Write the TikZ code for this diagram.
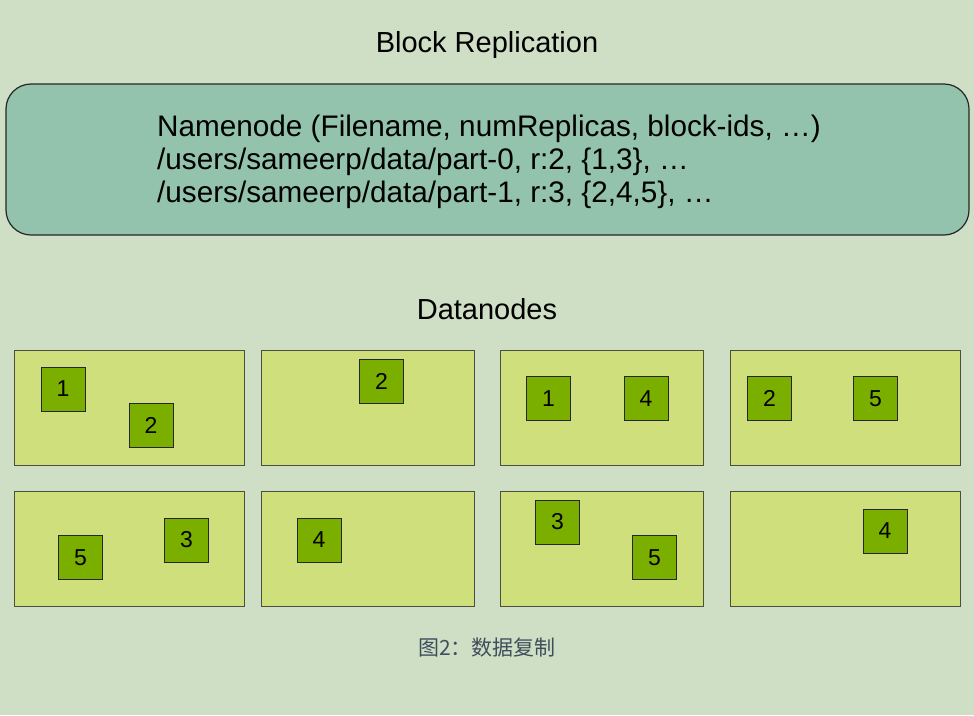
\documentclass[tikz,border=0pt]{standalone}
\usepackage{fontspec}
\setmainfont{Liberation Sans}
\newfontfamily\cjk{Noto Sans CJK SC}
\usepackage{tikz}

\definecolor{bgcol}{HTML}{CFDFC5}
\definecolor{namecol}{HTML}{93C2AD}
\definecolor{datacol}{HTML}{CFDF7B}
\definecolor{blockcol}{HTML}{7AAF00}
\definecolor{edgecol}{HTML}{4A4F40}
\definecolor{capcol}{HTML}{404E5C}

\tikzset{
  datanode/.style={draw=edgecol, line width=1.2pt, fill=datacol, minimum width=#1,
    minimum height=115pt, anchor=north west, inner sep=0pt},
  block/.style={draw=black!85, line width=1pt, fill=blockcol, minimum size=44pt,
    inner sep=0pt, font=\fontsize{23}{23}\selectfont},
}

\begin{document}
\begin{tikzpicture}[x=1pt,y=-1pt]
    \fill[bgcol] (0,0) rectangle (974,715);
    \useasboundingbox (0,0) rectangle (974,715);
    \node (title) at (487,45) {\fontsize{29}{33}\selectfont Block Replication};
    \node[draw=black!85, line width=1.2pt, fill=namecol, rounded corners=25pt,
      minimum width=963pt, minimum height=151pt, align=left,
      font=\fontsize{29.7}{33}\selectfont] (namenode) at (487.5,159.5) {};
    \node[align=left, font=\fontsize{29.7}{33}\selectfont] (nametext) at (489,161.5)
      {Namenode (Filename, numReplicas, block-ids, \dots)\\
       /users/sameerp/data/part-0, r:2, \{1,3\}, \dots\\
       /users/sameerp/data/part-1, r:3, \{2,4,5\}, \dots};
    \node (datanodes) at (487,309) {\fontsize{29}{33}\selectfont Datanodes};
    % first row of datanodes
    \node[datanode=230pt] (dn1) at (14,350) {};
    \node[datanode=213pt] (dn2) at (261,350) {};
    \node[datanode=203pt] (dn3) at (500,350) {};
    \node[datanode=230pt] (dn4) at (730,350) {};
    % second row of datanodes
    \node[datanode=230pt] (dn5) at (14,491) {};
    \node[datanode=213pt] (dn6) at (261,491) {};
    \node[datanode=203pt] (dn7) at (500,491) {};
    \node[datanode=230pt] (dn8) at (730,491) {};
    % blocks
    \node[block] (b11) at (63,389) {1};
    \node[block] (b12) at (151,425) {2};
    \node[block] (b22) at (381.5,381) {2};
    \node[block] (b31) at (548.5,398.5) {1};
    \node[block] (b34) at (646,398.5) {4};
    \node[block] (b42) at (769.5,398.5) {2};
    \node[block] (b45) at (875.5,398.5) {5};
    \node[block] (b55) at (80.5,557.5) {5};
    \node[block] (b53) at (186.5,540) {3};
    \node[block] (b64) at (319,540) {4};
    \node[block] (b73) at (557.5,522) {3};
    \node[block] (b75) at (654.5,557.5) {5};
    \node[block] (b84) at (885,531) {4};
    \node[text=capcol, font=\cjk\fontsize{21}{21}\selectfont] (caption) at (487,648) {图2：数据复制};
\end{tikzpicture}
\end{document}
